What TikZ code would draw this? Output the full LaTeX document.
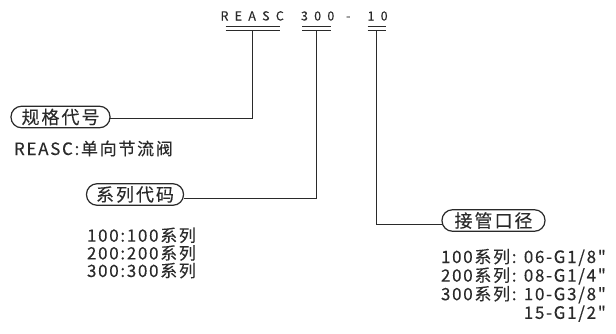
\documentclass[tikz,border=0pt]{standalone}
\usepackage{fontspec}
\setmainfont{Noto Sans CJK SC}
\newfontfamily\topfont[LetterSpace=50,FakeBold=0.25]{Noto Sans CJK SC}
\newfontfamily\bodyfont[LetterSpace=10,FakeBold=0.25]{Noto Sans CJK SC}
\newfontfamily\capfont[LetterSpace=11,FakeBold=0.25]{Noto Sans CJK SC}
\definecolor{ink}{HTML}{2A2A2A}
\begin{document}
\begin{tikzpicture}[x=1pt,y=-1pt,
  every node/.style={inner sep=0pt, outer sep=0pt, text=ink},
  toplabel/.style={anchor=base west, font=\topfont\fontsize{12.5}{14}\selectfont},
  bodytext/.style={anchor=base west, font=\bodyfont\fontsize{17}{19}\selectfont},
  capsule/.style={draw=ink, line width=1.2pt, rounded corners=10.5pt, minimum height=21.5pt,
    font=\capfont\fontsize{18}{20}\selectfont},
  link/.style={draw=ink, line width=1pt},
  uline/.style={draw=ink, line width=1pt}]
\useasboundingbox (0,0) rectangle (616,333);
% top code
\node[toplabel] (codeA) at (220.5,20.5) {REASC};
\node[toplabel] (codeB) at (301,20.5) {300};
\node[toplabel] (codeC) at (346,20.5) {-};
\node[toplabel] (codeD) at (367.5,20.5) {10};
% underlines
\coordinate (a1) at (225.5,26); \coordinate (a2) at (279.5,26);
\coordinate (a3) at (225.5,30); \coordinate (a4) at (279.5,30);
\coordinate (b1) at (302,26); \coordinate (b2) at (330.5,26);
\coordinate (b3) at (302,30); \coordinate (b4) at (330.5,30);
\coordinate (c1) at (367.5,26); \coordinate (c2) at (385.5,26);
\coordinate (c3) at (367.5,30); \coordinate (c4) at (385.5,30);
\draw[uline] (a1) -- (a2); \draw[uline] (a3) -- (a4);
\draw[uline] (b1) -- (b2); \draw[uline] (b3) -- (b4);
\draw[uline] (c1) -- (c2); \draw[uline] (c3) -- (c4);
\coordinate (ua) at (252.5,30);
\coordinate (ub) at (316.7,30);
\coordinate (uc) at (376.7,30);
% capsules
\node[capsule, minimum width=99pt] (capA) at (60.5,117) {规格代号};
\node[capsule, minimum width=97pt] (capB) at (135,194.5) {系列代码};
\node[capsule, minimum width=103pt] (capC) at (493.5,220.5) {接管口径};
% connectors
\draw[link] (ua) |- ([yshift=-1pt]capA.east);
\draw[link] (ub) |- ([yshift=-4pt]capB.east);
\draw[link] (uc) |- ([yshift=-4pt]capC.west);
% descriptions
\node[bodytext] (dA) at (14,155) {REASC:单向节流阀};
\node[bodytext] (dB1) at (87,241.7) {100:100系列};
\node[bodytext] (dB2) at (87,259.4) {200:200系列};
\node[bodytext] (dB3) at (87,277) {300:300系列};
\node[bodytext] (dC1) at (441,263) {100系列: 06-G1/8"};
\node[bodytext] (dC2) at (441,281.6) {200系列: 08-G1/4"};
\node[bodytext] (dC3) at (441,300.2) {300系列: 10-G3/8"};
\node[bodytext, anchor=base east] (dC4) at (dC3.base east |- 0,318.8) {15-G1/2"};
\end{tikzpicture}
\end{document}
